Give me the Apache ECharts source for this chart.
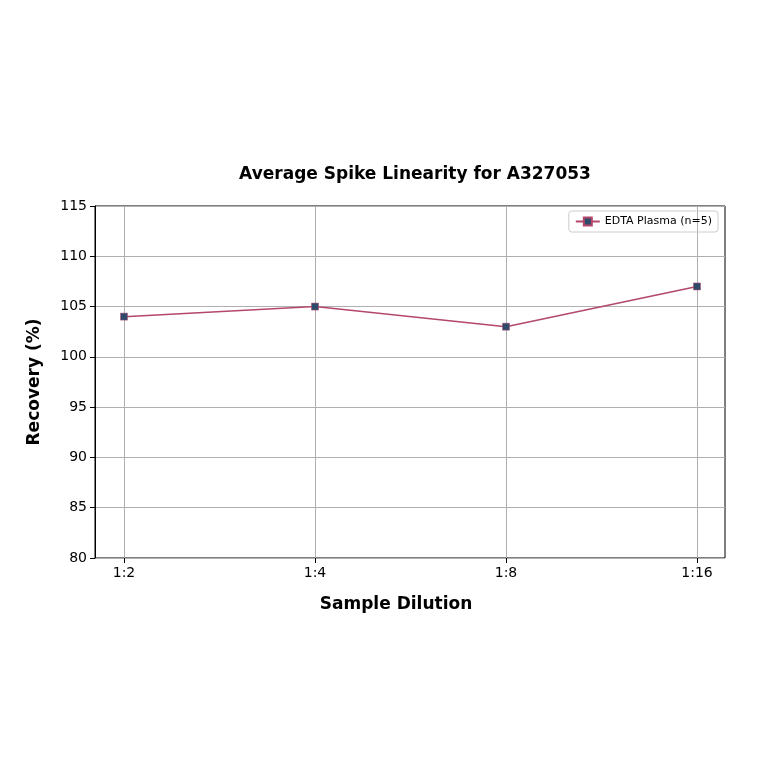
<!DOCTYPE html>
<html>
<head>
<meta charset="utf-8">
<script src="https://cdn.jsdelivr.net/npm/echarts@6/dist/echarts.min.js"></script>
<style>html,body{margin:0;padding:0;background:#fff}#ec{width:764px;height:764px}</style>
</head>
<body>
<div id="ec"></div>
<script>
var dilutions = ['1:2', '1:4', '1:8', '1:16'];
var recovery = [104, 105, 103, 107];
var yTicks = [80, 85, 90, 95, 100, 105, 110, 115];

var font = 'DejaVu Sans';
var chart = echarts.init(document.getElementById('ec'));
chart.setOption({
    animation: false,
    textStyle: { fontFamily: font },
    title: {
        text: 'Average Spike Linearity for A327053',
        left: 410, top: 161, textAlign: 'center',
        textStyle: { fontSize: 17, fontWeight: 'bold', color: '#000', fontFamily: font }
    },
    legend: {
        right: 46, top: 211, itemWidth: 24, itemHeight: 10,
        borderColor: '#ccc', borderWidth: 1, borderRadius: 3, padding: [5, 6],
        textStyle: { fontSize: 11, color: '#000' },
        data: ['EDTA Plasma (n=5)']
    },
    grid: [
        { left: 95, right: 39, top: 206, bottom: 206, show: true, borderColor: '#000', borderWidth: 1 },
        { left: 124, right: 67, top: 206, bottom: 206 }
    ],
    xAxis: [
        { gridIndex: 0, type: 'value', min: 0, max: 1, show: false },
        {
            gridIndex: 1, type: 'category', data: dilutions, boundaryGap: false,
            axisLine: { show: false },
            axisTick: { show: true, length: 5, lineStyle: { color: '#000' } },
            axisLabel: { fontSize: 14, color: '#000', margin: 8 },
            splitLine: { show: true, lineStyle: { color: '#b0b0b0' } },
            name: 'Sample Dilution', nameLocation: 'middle', nameGap: 38,
            nameTextStyle: { fontSize: 17, fontWeight: 'bold', color: '#000', padding: [0, 0, 0, -29] }
        }
    ],
    yAxis: [
        {
            gridIndex: 0, type: 'value', min: yTicks[0], max: yTicks[yTicks.length - 1], interval: 5,
            axisLine: { show: true, lineStyle: { color: '#000' } },
            axisTick: { show: true, length: 5, lineStyle: { color: '#000' } },
            axisLabel: { fontSize: 14, color: '#000', margin: 8 },
            splitLine: { show: true, lineStyle: { color: '#b0b0b0' } },
            name: 'Recovery (%)', nameLocation: 'middle', nameGap: 52,
            nameTextStyle: { fontSize: 17, fontWeight: 'bold', color: '#000' }
        },
        { gridIndex: 1, type: 'value', min: yTicks[0], max: yTicks[yTicks.length - 1], show: false }
    ],
    series: [{
        name: 'EDTA Plasma (n=5)', type: 'line', xAxisIndex: 1, yAxisIndex: 1,
        data: recovery, symbol: 'rect', symbolSize: 7,
        lineStyle: { color: '#b5476a', width: 1.5 },
        itemStyle: { color: '#2e4a6b', borderColor: '#b5476a', borderWidth: 0.5 }
    }]
});
</script>
</body>
</html>
